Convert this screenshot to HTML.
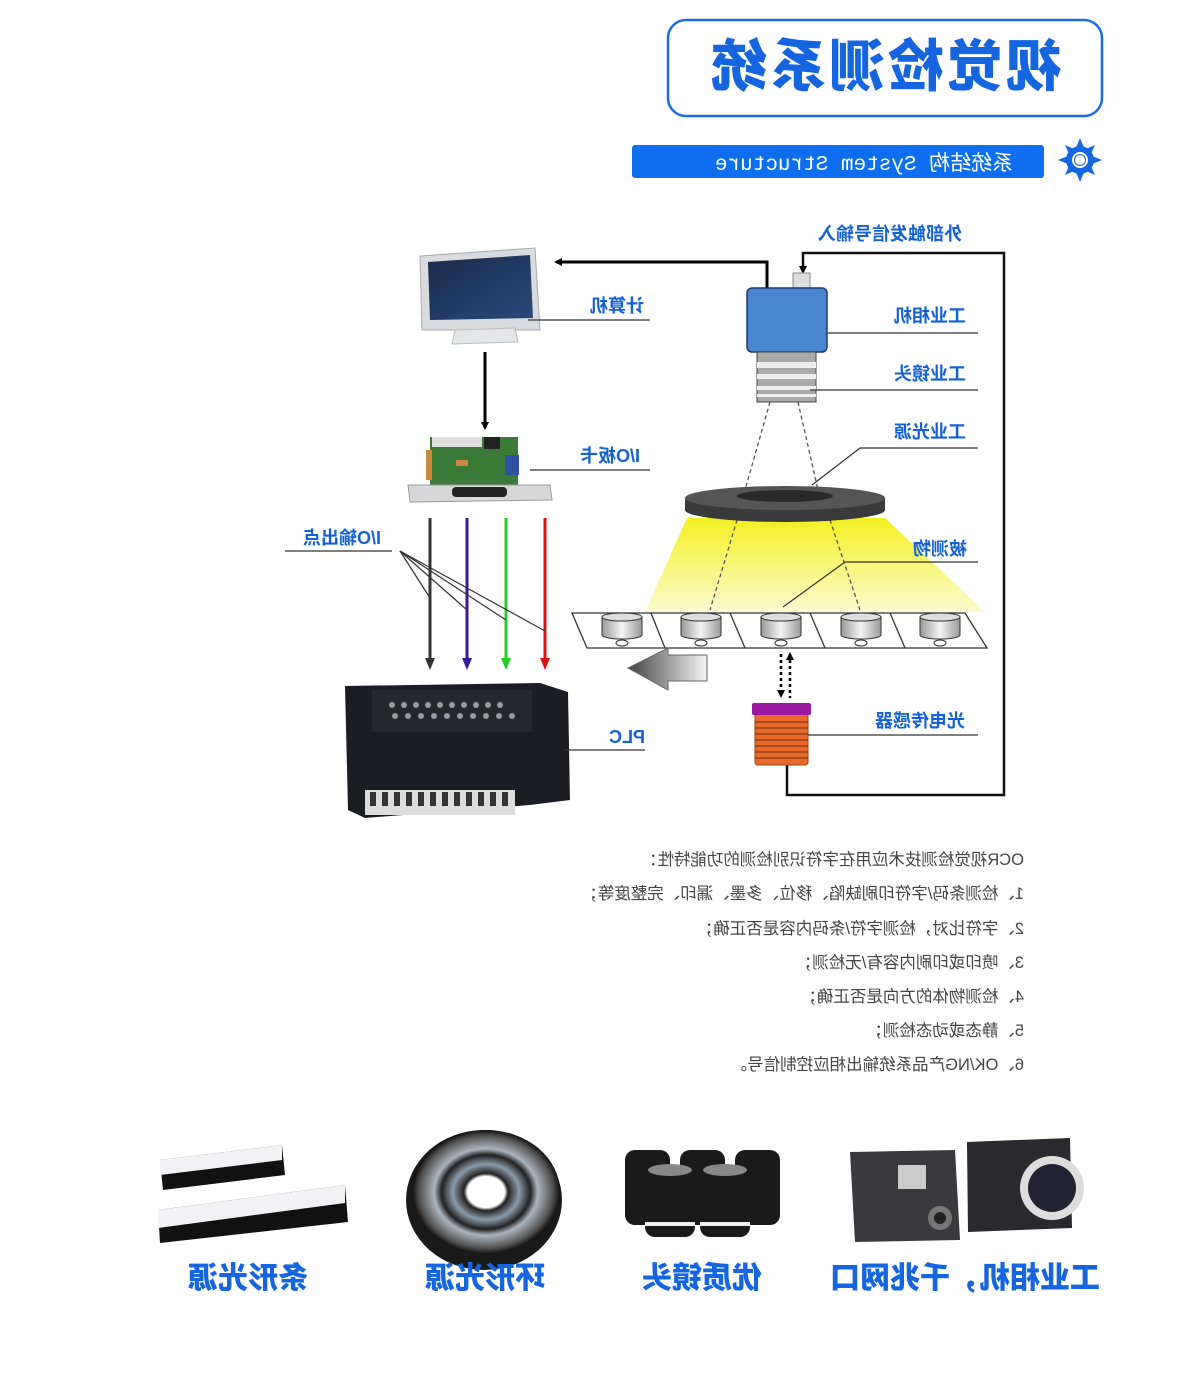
<!DOCTYPE html>
<html><head><meta charset="utf-8"><style>
html,body{margin:0;padding:0;background:#fff;}
svg{display:block;}
.m{transform-box:fill-box;transform-origin:center;transform:scaleX(-1);}
.lb{font-family:"Liberation Sans","Noto Sans CJK SC",sans-serif;font-weight:bold;fill:#1262d6;font-size:18px;}
.tx{font-family:"Liberation Sans","Noto Sans CJK SC",sans-serif;fill:#444;font-size:16.5px;}
.cap{font-family:"Liberation Sans","Noto Sans CJK SC",sans-serif;font-weight:900;fill:#1565e0;font-size:30px;}
</style></head><body>
<svg width="1200" height="1374" viewBox="0 0 1200 1374" xmlns="http://www.w3.org/2000/svg">
<defs>
<linearGradient id="yl" x1="0" y1="0" x2="0" y2="1"><stop offset="0" stop-color="#f4f020"/><stop offset="1" stop-color="#fbfbd0"/></linearGradient>
<linearGradient id="cyl" x1="0" y1="0" x2="1" y2="0"><stop offset="0" stop-color="#999"/><stop offset=".5" stop-color="#f4f4f4"/><stop offset="1" stop-color="#999"/></linearGradient>
<linearGradient id="arr" x1="0" y1="0" x2="1" y2="0"><stop offset="0" stop-color="#444"/><stop offset="1" stop-color="#f4f4f4"/></linearGradient>
<linearGradient id="scr" x1="0" y1="0" x2="1" y2="1"><stop offset="0" stop-color="#1a2a4a"/><stop offset="1" stop-color="#2a4a7a"/></linearGradient>
<radialGradient id="ring"><stop offset=".25" stop-color="#fff"/><stop offset=".3" stop-color="#222"/><stop offset=".45" stop-color="#8a9aa8"/><stop offset=".6" stop-color="#222"/><stop offset=".7" stop-color="#aab4bc"/><stop offset=".9" stop-color="#555"/><stop offset="1" stop-color="#111"/></radialGradient>
<marker id="ah" markerWidth="8" markerHeight="8" refX="6" refY="4" orient="auto" markerUnits="userSpaceOnUse"><path d="M0,0 L8,4 L0,8z" fill="#000"/></marker>
</defs>

<rect x="668" y="20" width="434" height="96" rx="18" fill="#fff" stroke="#1a6fe0" stroke-width="2.5"/>
<text class="m" x="885" y="86" text-anchor="middle" font-family="Liberation Sans,Noto Sans CJK SC,sans-serif" font-weight="900" font-size="56" fill="#1565e0" letter-spacing="3">视觉检测系统</text>
<rect x="632" y="145" width="412" height="33" rx="3" fill="#0d6ef0"/>
<text class="m" x="864" y="170" text-anchor="middle" font-family="Liberation Mono,Noto Sans CJK SC,monospace" font-size="21" fill="#fff">系统结构 System Structure</text>
<g transform="translate(1080,160)" fill="#1565e0">
<circle r="14"/>
<path d="M0,-22 L4,-12 L-4,-12z M0,22 L4,12 L-4,12z M-22,0 L-12,4 L-12,-4z M22,0 L12,4 L12,-4z M15,-15 L6,-11 L11,-6z M-15,15 L-6,11 L-11,6z M15,15 L6,11 L11,6z M-15,-15 L-6,-11 L-11,-6z"/>
<circle r="8" fill="#fff"/><circle r="6"/><circle r="5" fill="#fff"/>
</g>

<path d="M767,288 V262 H556" fill="none" stroke="#000" stroke-width="3" marker-end="url(#ah)"/>
<path d="M787,765 V795 H1004 V253 H803 V272" fill="none" stroke="#111" stroke-width="2.5" marker-end="url(#ah)"/>
<line x1="485" y1="352" x2="485" y2="428" stroke="#000" stroke-width="3" marker-end="url(#ah)"/>

<g>
<path d="M420,256 L535,248 L540,330 L422,330z" fill="#d8dce0" stroke="#aaa"/>
<path d="M428,262 L530,255 L533,318 L430,320z" fill="url(#scr)"/>
<path d="M455,330 L515,328 L518,342 L452,344z" fill="#e4e6e8" stroke="#bbb"/>
</g>
<g>
<rect x="430" y="437" width="88" height="52" fill="#3c7a3a"/>
<rect x="432" y="437" width="50" height="10" fill="#ddd"/>
<rect x="484" y="437" width="16" height="12" fill="#222"/>
<rect x="505" y="455" width="14" height="20" fill="#3050a0"/>
<rect x="456" y="460" width="12" height="6" fill="#c84"/>
<rect x="426" y="450" width="6" height="30" fill="#c98a40"/>
<path d="M408,485 L550,485 L552,500 L410,502z" fill="#d8d8d8" stroke="#999"/>
<rect x="452" y="487" width="55" height="10" rx="4" fill="#222"/>
</g>

<g stroke-width="3">
<line x1="430" y1="518" x2="430" y2="662" stroke="#333"/><path d="M425,658 L435,658 L430,670z" fill="#333"/>
<line x1="467" y1="518" x2="467" y2="662" stroke="#3a1a9a"/><path d="M462,658 L472,658 L467,670z" fill="#3a1a9a"/>
<line x1="506" y1="518" x2="506" y2="662" stroke="#22cc22"/><path d="M501,658 L511,658 L506,670z" fill="#22cc22"/>
<line x1="545" y1="518" x2="545" y2="662" stroke="#dd1111"/><path d="M540,658 L550,658 L545,670z" fill="#dd1111"/>
</g>

<g>
<path d="M345,686 L540,683 L568,692 L570,800 L530,805 L365,818 L348,810z" fill="#1c1d22"/>
<rect x="372" y="690" width="160" height="42" fill="#26272d"/>
<g fill="#999">
<circle cx="392" cy="705" r="3"/><circle cx="404" cy="705" r="3"/><circle cx="416" cy="705" r="3"/><circle cx="428" cy="705" r="3"/><circle cx="440" cy="705" r="3"/><circle cx="452" cy="705" r="3"/><circle cx="464" cy="705" r="3"/><circle cx="476" cy="705" r="3"/><circle cx="488" cy="705" r="3"/><circle cx="500" cy="705" r="3"/>
<circle cx="395" cy="716" r="3"/><circle cx="408" cy="716" r="3"/><circle cx="421" cy="716" r="3"/><circle cx="434" cy="716" r="3"/><circle cx="447" cy="716" r="3"/><circle cx="460" cy="716" r="3"/><circle cx="473" cy="716" r="3"/><circle cx="486" cy="716" r="3"/><circle cx="499" cy="716" r="3"/><circle cx="512" cy="716" r="3"/>
</g>
<rect x="365" y="790" width="150" height="25" fill="#ddd"/>
<g fill="#333"><rect x="370" y="792" width="6" height="14"/><rect x="382" y="792" width="6" height="14"/><rect x="394" y="792" width="6" height="14"/><rect x="406" y="792" width="6" height="14"/><rect x="418" y="792" width="6" height="14"/><rect x="430" y="792" width="6" height="14"/><rect x="442" y="792" width="6" height="14"/><rect x="454" y="792" width="6" height="14"/><rect x="466" y="792" width="6" height="14"/><rect x="478" y="792" width="6" height="14"/><rect x="490" y="792" width="6" height="14"/><rect x="502" y="792" width="6" height="14"/></g>
</g>

<rect x="793" y="273" width="17" height="15" fill="#ddd" stroke="#888"/>
<rect x="747" y="288" width="80" height="64" rx="5" fill="#4a86d0" stroke="#1a3a6a" stroke-width="1.5"/>
<rect x="757" y="352" width="59" height="50" fill="#aaa" stroke="#444"/>
<g fill="#eee"><rect x="757" y="362" width="59" height="6"/><rect x="757" y="374" width="59" height="5"/><rect x="757" y="386" width="59" height="4"/><rect x="757" y="394" width="59" height="3"/></g>

<path d="M687,518 L885,518 L985,612 L645,612z" fill="url(#yl)"/>
<g stroke="#555" stroke-width="1.3" stroke-dasharray="4,3" fill="none">
<line x1="770" y1="402" x2="745" y2="490"/><line x1="798" y1="402" x2="818" y2="490"/>
<line x1="737" y1="520" x2="710" y2="610"/><line x1="830" y1="520" x2="860" y2="610"/>
</g>
<path d="M685,498 V510 A100,12 0 0 0 885,510 V498z" fill="#3a3a3a"/>
<ellipse cx="785" cy="498" rx="100" ry="12" fill="#555"/>
<ellipse cx="785" cy="496" rx="48" ry="6" fill="#2a2a2a"/>

<path d="M572,613 L965,613 L987,648 L587,648z" fill="#fff" stroke="#333" stroke-width="1.3"/>
<g stroke="#333" stroke-width="1.3"><line x1="651" y1="613" x2="665" y2="648"/><line x1="730" y1="613" x2="745" y2="648"/><line x1="810" y1="613" x2="825" y2="648"/><line x1="890" y1="613" x2="905" y2="648"/></g>
<g stroke="#333" stroke-width="1">
<g transform="translate(622,0)"><path d="M-20,617 V635 A20,4 0 0 0 20,635 V617z" fill="url(#cyl)"/><ellipse cx="0" cy="617" rx="20" ry="4" fill="#ddd"/><ellipse cx="0" cy="643" rx="6" ry="3" fill="#fff"/></g>
<g transform="translate(701,0)"><path d="M-20,617 V635 A20,4 0 0 0 20,635 V617z" fill="url(#cyl)"/><ellipse cx="0" cy="617" rx="20" ry="4" fill="#ddd"/><ellipse cx="0" cy="643" rx="6" ry="3" fill="#fff"/></g>
<g transform="translate(781,0)"><path d="M-20,617 V635 A20,4 0 0 0 20,635 V617z" fill="url(#cyl)"/><ellipse cx="0" cy="617" rx="20" ry="4" fill="#ddd"/><ellipse cx="0" cy="643" rx="6" ry="3" fill="#fff"/></g>
<g transform="translate(861,0)"><path d="M-20,617 V635 A20,4 0 0 0 20,635 V617z" fill="url(#cyl)"/><ellipse cx="0" cy="617" rx="20" ry="4" fill="#ddd"/><ellipse cx="0" cy="643" rx="6" ry="3" fill="#fff"/></g>
<g transform="translate(940,0)"><path d="M-20,617 V635 A20,4 0 0 0 20,635 V617z" fill="url(#cyl)"/><ellipse cx="0" cy="617" rx="20" ry="4" fill="#ddd"/><ellipse cx="0" cy="643" rx="6" ry="3" fill="#fff"/></g>
</g>
<path d="M628,668 L668,648 L668,655 L707,655 L707,681 L668,681 L668,690z" fill="url(#arr)" stroke="#666"/>
<g stroke="#000" stroke-width="2.5" stroke-dasharray="3,3"><line x1="781" y1="654" x2="781" y2="692"/><line x1="790" y1="660" x2="790" y2="698"/></g>
<path d="M777,690 L785,690 L781,698z M786,660 L794,660 L790,652z" fill="#000"/>
<rect x="755" y="713" width="53" height="52" rx="3" fill="#e86a2a" stroke="#a04010"/>
<g stroke="#6a2a0a" stroke-width="1"><line x1="755" y1="722" x2="808" y2="722"/><line x1="755" y1="728" x2="808" y2="728"/><line x1="755" y1="734" x2="808" y2="734"/><line x1="755" y1="740" x2="808" y2="740"/><line x1="755" y1="746" x2="808" y2="746"/><line x1="755" y1="752" x2="808" y2="752"/><line x1="755" y1="758" x2="808" y2="758"/></g>
<rect x="752" y="703" width="59" height="12" rx="2" fill="#9a1aa0"/>

<g stroke="#333" stroke-width="1.2" fill="none">
<line x1="528" y1="320" x2="650" y2="320"/>
<line x1="828" y1="333" x2="978" y2="333"/>
<line x1="810" y1="390" x2="978" y2="390"/>
<polyline points="978,448 860,448 812,485"/>
<line x1="530" y1="470" x2="650" y2="470"/>
<polyline points="978,562 845,562 783,607"/>
<line x1="285" y1="551" x2="392" y2="551"/>
<line x1="400" y1="551" x2="430" y2="598"/><line x1="400" y1="551" x2="467" y2="610"/><line x1="400" y1="551" x2="506" y2="620"/><line x1="400" y1="551" x2="545" y2="631"/>
<line x1="808" y1="735" x2="978" y2="735"/>
<line x1="565" y1="750" x2="645" y2="750"/>
</g>
<text class="lb m" x="890" y="240" text-anchor="middle">外部触发信号输入</text>
<text class="lb m" x="617" y="312" text-anchor="middle">计算机</text>
<text class="lb m" x="930" y="322" text-anchor="middle">工业相机</text>
<text class="lb m" x="930" y="380" text-anchor="middle">工业镜头</text>
<text class="lb m" x="930" y="438" text-anchor="middle">工业光源</text>
<text class="lb m" x="610" y="462" text-anchor="middle">I/O板卡</text>
<text class="lb m" x="940" y="555" text-anchor="middle">被测物</text>
<text class="lb m" x="342" y="544" text-anchor="middle">I/O输出点</text>
<text class="lb m" x="920" y="727" text-anchor="middle">光电传感器</text>
<text class="lb m" x="627" y="743" text-anchor="middle">PLC</text>

<text class="tx m" x="1024" y="865" text-anchor="end">OCR视觉检测技术应用在字符识别检测的功能特性：</text>
<text class="tx m" x="1024" y="899" text-anchor="end">1、检测条码/字符印刷缺陷、移位、多墨、漏印、完整度等；</text>
<text class="tx m" x="1024" y="934" text-anchor="end">2、字符比对，检测字符/条码内容是否正确；</text>
<text class="tx m" x="1024" y="968" text-anchor="end">3、喷印或印刷内容有/无检测；</text>
<text class="tx m" x="1024" y="1002" text-anchor="end">4、检测物体的方向是否正确；</text>
<text class="tx m" x="1024" y="1036" text-anchor="end">5、静态或动态检测；</text>
<text class="tx m" x="1024" y="1070" text-anchor="end">6、OK/NG产品系统输出相应控制信号。</text>

<path d="M160,1160 L282,1145 L285,1175 L163,1190z" fill="#111"/>
<path d="M160,1160 L282,1145 L282,1160 L160,1175z" fill="#f2f2f4"/>
<path d="M158,1210 L345,1185 L348,1222 L160,1243z" fill="#111"/>
<path d="M158,1210 L345,1185 L345,1203 L158,1228z" fill="#f2f2f4"/>
<ellipse cx="484" cy="1200" rx="78" ry="70" fill="#1a1a1a"/>
<ellipse cx="486" cy="1192" rx="74" ry="62" fill="url(#ring)"/>
<g fill="#1a1a1a">
<rect x="625" y="1150" width="45" height="75" rx="10"/><rect x="680" y="1150" width="45" height="75" rx="10"/><rect x="735" y="1150" width="45" height="75" rx="10"/>
<rect x="645" y="1165" width="50" height="72" rx="10"/><rect x="700" y="1165" width="50" height="72" rx="10"/>
</g>
<g fill="#888"><ellipse cx="670" cy="1170" rx="22" ry="6"/><ellipse cx="725" cy="1170" rx="22" ry="6"/><rect x="645" y="1222" width="50" height="4" fill="#eee"/><rect x="700" y="1222" width="50" height="4" fill="#eee"/></g>
<path d="M850,1152 L955,1150 L960,1240 L855,1242z" fill="#3a3a3e"/>
<rect x="898" y="1165" width="28" height="24" fill="#ccc"/>
<circle cx="940" cy="1218" r="12" fill="#777"/><circle cx="940" cy="1218" r="6" fill="#222"/>
<path d="M967,1142 L1070,1138 L1072,1228 L968,1232z" fill="#2a2a2e"/>
<circle cx="1052" cy="1188" r="32" fill="#ddd"/><circle cx="1052" cy="1188" r="24" fill="#223"/>
<text class="cap m" x="248" y="1288" text-anchor="middle">条形光源</text>
<text class="cap m" x="485" y="1288" text-anchor="middle">环形光源</text>
<text class="cap m" x="702" y="1288" text-anchor="middle">优质镜头</text>
<text class="cap m" x="965" y="1288" text-anchor="middle">工业相机，千兆网口</text>
</svg>
</body></html>
